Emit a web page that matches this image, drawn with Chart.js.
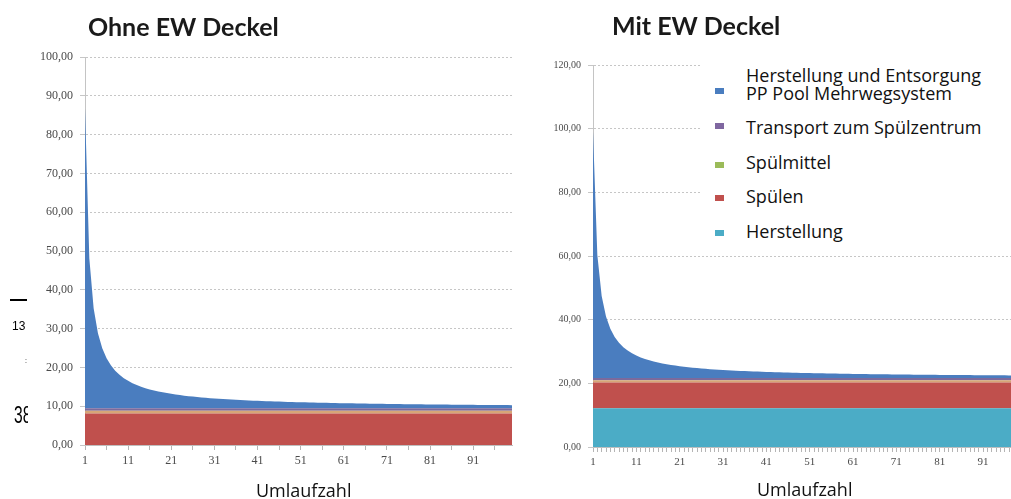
<!DOCTYPE html>
<html lang="de">
<head>
<meta charset="utf-8">
<title>Umlaufzahl – Ohne / Mit EW Deckel</title>
<script src="https://cdn.jsdelivr.net/npm/chart.js@4.4.1/dist/chart.umd.min.js"></script>
<style>
  html, body { margin: 0; padding: 0; background: #fff; }
  body { width: 1011px; height: 499px; overflow: hidden; position: relative; }
  canvas { position: absolute; top: 0; }
  #cOhne { left: 0; }
  #cMit { left: 510px; }
  .title { position: absolute; font-family: Lato, sans-serif; font-weight: 700; font-size: 25px; line-height: 25px; color: #1a1a1a; white-space: nowrap; }
  .axis-title { position: absolute; font-family: "Open Sans", sans-serif; font-size: 18px; line-height: 18px; color: #111; white-space: nowrap; }
  #legend { position: absolute; left: 700px; top: 58px; width: 320px; height: 190px; background: #fff; }
  .lg-mark { position: absolute; width: 9px; height: 6px; }
  .lg-text { position: absolute; font-family: "Open Sans", sans-serif; font-size: 18px; line-height: 19px; color: #111; white-space: nowrap; }
  .margin-note { position: absolute; font-family: "Liberation Sans", Arial, sans-serif; color: #000; white-space: nowrap; }
  #clip38 { position: absolute; left: 0; top: 395px; width: 28px; height: 40px; overflow: hidden; }
  #clip38 .margin-note { transform: scaleX(0.68); transform-origin: 0 0; }
</style>
</head>
<body>
<canvas id="cOhne" width="520" height="499"></canvas>
<canvas id="cMit" width="530" height="499"></canvas>

<div class="title" style="left:88px; top:14px;">Ohne EW Deckel</div>
<div class="title" style="left:612px; top:13px;">Mit EW Deckel</div>
<div class="axis-title" style="left:256px; top:481px;">Umlaufzahl</div>
<div class="axis-title" style="left:757px; top:480px;">Umlaufzahl</div>

<div id="legend"></div>

<!-- page margin marks beside the left chart -->
<div style="position:absolute; left:10px; top:299px; width:17px; height:2px; background:#000;"></div>
<div class="margin-note" style="left:12px; top:320px; font-size:12px; line-height:12px;">13</div>
<div class="margin-note" style="left:25px; top:357px; font-size:7px; line-height:7px;">:</div>
<div id="clip38"><div class="margin-note" style="left:14px; top:9px; font-size:23px; line-height:23px;">38</div></div>

<script>
// Umlaufzahl (number of reuse cycles)
const umlaufzahl = [
  1, 2, 3, 4, 5, 6, 7, 8, 9, 10,
  11, 12, 13, 14, 15, 16, 17, 18, 19, 20,
  21, 22, 23, 24, 25, 26, 27, 28, 29, 30,
  31, 32, 33, 34, 35, 36, 37, 38, 39, 40,
  41, 42, 43, 44, 45, 46, 47, 48, 49, 50,
  51, 52, 53, 54, 55, 56, 57, 58, 59, 60,
  61, 62, 63, 64, 65, 66, 67, 68, 69, 70,
  71, 72, 73, 74, 75, 76, 77, 78, 79, 80,
  81, 82, 83, 84, 85, 86, 87, 88, 89, 90,
  91, 92, 93, 94, 95, 96, 97, 98, 99, 100
];

// labelled cycles on the x axis
const xTickLabels = [1, 11, 21, 31, 41, 51, 61, 71, 81, 91];

// Herstellung und Entsorgung PP Pool Mehrwegsystem, share per Umlauf
const poolMehrweg = [
  77.30, 38.65, 25.77, 19.33, 15.46, 12.88, 11.04, 9.66, 8.59, 7.73,
  7.03, 6.44, 5.95, 5.52, 5.15, 4.83, 4.55, 4.29, 4.07, 3.87,
  3.68, 3.51, 3.36, 3.22, 3.09, 2.97, 2.86, 2.76, 2.67, 2.58,
  2.49, 2.42, 2.34, 2.27, 2.21, 2.15, 2.09, 2.03, 1.98, 1.93,
  1.89, 1.84, 1.80, 1.76, 1.72, 1.68, 1.64, 1.61, 1.58, 1.55,
  1.52, 1.49, 1.46, 1.43, 1.41, 1.38, 1.36, 1.33, 1.31, 1.29,
  1.27, 1.25, 1.23, 1.21, 1.19, 1.17, 1.15, 1.14, 1.12, 1.10,
  1.09, 1.07, 1.06, 1.04, 1.03, 1.02, 1.00, 0.99, 0.98, 0.97,
  0.95, 0.94, 0.93, 0.92, 0.91, 0.90, 0.89, 0.88, 0.87, 0.86,
  0.85, 0.84, 0.83, 0.82, 0.81, 0.81, 0.80, 0.79, 0.78, 0.77
];

// per-cycle stages that do not depend on the Umlaufzahl
const transportSpuelzentrum = 0.7;
const spuelmittel = 0.7;
const spuelen = 8.1;
const herstellungDeckel = 12.2;   // only with EW Deckel

// y axis ranges
const yTicksOhne = { max: 100, step: 10 };
const yTicksMit = { max: 120, step: 20 };

// legend entries, top to bottom
const legendNames = [
  'Herstellung und Entsorgung\nPP Pool Mehrwegsystem',
  'Transport zum Spülzentrum',
  'Spülmittel',
  'Spülen',
  'Herstellung'
];
const legendColors = ['#4a7dbf', '#7f67a0', '#9bbb59', '#c0504d', '#4bacc6'];

// fill colours of the stacked areas
const fillColors = {
  pool: '#4a7dbf',
  transport: '#7c6a9c',
  spuelmittel: '#d6a677',
  spuelen: '#c0504d',
  herstellung: '#4bacc6'
};

const perCycle = (v) => umlaufzahl.map(() => v);

function layer(label, data, color, first) {
  return {
    label, data,
    backgroundColor: color,
    borderColor: color,
    borderWidth: 0,
    pointRadius: 0,
    tension: 0,
    fill: first ? 'origin' : '-1'
  };
}

function buildDatasets(withDeckel) {
  const ds = [];
  if (withDeckel) ds.push(layer('Herstellung', perCycle(herstellungDeckel), fillColors.herstellung, true));
  ds.push(layer('Spülen', perCycle(spuelen), fillColors.spuelen, ds.length === 0));
  ds.push(layer('Spülmittel', perCycle(spuelmittel), fillColors.spuelmittel, false));
  ds.push(layer('Transport zum Spülzentrum', perCycle(transportSpuelzentrum), fillColors.transport, false));
  ds.push(layer('Herstellung und Entsorgung PP Pool Mehrwegsystem', poolMehrweg, fillColors.pool, false));
  return ds;
}

const fmt = (v) => v.toFixed(2).replace('.', ',');

function buildChart(canvasId, cfg) {
  return new Chart(document.getElementById(canvasId), {
    type: 'line',
    data: { labels: umlaufzahl, datasets: buildDatasets(cfg.withDeckel) },
    options: {
      responsive: false,
      animation: false,
      events: [],
      layout: { padding: cfg.padding },
      plugins: { legend: { display: false }, tooltip: { enabled: false }, title: { display: false } },
      scales: {
        x: {
          type: 'category',
          offset: false,
          grid: {
            drawOnChartArea: false,
            drawTicks: true,
            tickLength: 5,
            tickColor: (ctx) => (ctx.index % cfg.tickEvery === 0 ? '#b5b5b5' : 'rgba(0,0,0,0)')
          },
          border: { display: true, color: '#bfbfbf' },
          ticks: {
            autoSkip: false,
            maxRotation: 0,
            minRotation: 0,
            padding: 4,
            color: '#4a4a4a',
            font: { family: '"Liberation Serif", serif', size: cfg.xFont },
            callback: (v, i) => (xTickLabels.includes(umlaufzahl[i]) ? String(umlaufzahl[i]) : '')
          },
          afterFit: (s) => { s.height = cfg.xHeight; }
        },
        y: {
          stacked: true,
          min: 0,
          max: cfg.yTicks.max,
          grid: { color: '#c6c6c6', lineWidth: 1, drawTicks: true, tickLength: 5, tickColor: '#c6c6c6' },
          border: { display: true, color: '#c4c4c4', dash: [2, 2] },
          ticks: {
            stepSize: cfg.yTicks.step,
            padding: 7,
            color: '#4a4a4a',
            font: { family: '"Liberation Serif", serif', size: cfg.yFont },
            callback: (v) => fmt(v)
          },
          afterFit: (s) => { s.width = cfg.yWidth; }
        }
      }
    }
  });
}

buildChart('cOhne', {
  withDeckel: false,
  padding: { top: 57, left: 0, right: 8, bottom: 0 },
  yWidth: 85, xHeight: 54,
  yTicks: yTicksOhne, tickEvery: 5,
  xFont: 12, yFont: 12
});

buildChart('cMit', {
  withDeckel: true,
  padding: { top: 65, left: 0, right: 18, bottom: 0 },
  yWidth: 83, xHeight: 52,
  yTicks: yTicksMit, tickEvery: 1,
  xFont: 11, yFont: 10
});

// legend overlay inside the right plot
(function buildLegend() {
  const box = document.getElementById('legend');
  const rows = [
    { mark: 30, lines: [8, 26] },
    { mark: 65, lines: [60] },
    { mark: 104, lines: [95] },
    { mark: 137, lines: [129] },
    { mark: 172, lines: [164] }
  ];
  legendNames.forEach((name, i) => {
    const m = document.createElement('div');
    m.className = 'lg-mark';
    m.style.left = '15px';
    m.style.top = rows[i].mark + 'px';
    m.style.background = legendColors[i];
    box.appendChild(m);
    name.split('\n').forEach((txt, j) => {
      const t = document.createElement('div');
      t.className = 'lg-text';
      t.style.left = '46px';
      t.style.top = rows[i].lines[j] + 'px';
      t.textContent = txt;
      box.appendChild(t);
    });
  });
})();
</script>
</body>
</html>
